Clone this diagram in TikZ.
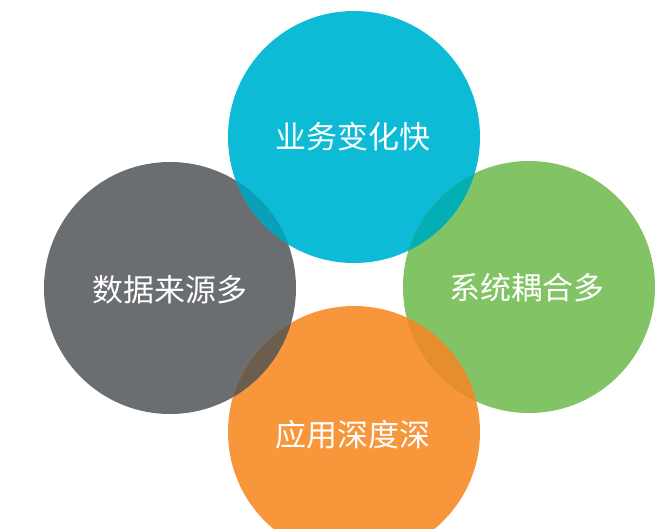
\documentclass[tikz,border=0pt]{standalone}
\usepackage{fontspec}
\newfontfamily\cjk{Noto Sans CJK SC}

\definecolor{bizcyan}{HTML}{0EBBD7}
\definecolor{datagray}{HTML}{6B6E71}
\definecolor{syslgreen}{HTML}{82C465}
\definecolor{appsorange}{HTML}{F7963A}
\definecolor{lapcyangray}{HTML}{09A1BA}
\definecolor{lapcyangreen}{HTML}{03AEB4}
\definecolor{lapgrayorange}{HTML}{6B5E4E}
\definecolor{lapgreenorange}{HTML}{E68E2E}

\begin{document}
\begin{tikzpicture} [x=1pt, y=-1pt, circtext/.style={text=white, font=\cjk\fontsize{31}{34}\selectfont, inner sep=0pt}]
\useasboundingbox (0,0) rectangle (670,528);
\clip (0,0) rectangle (670,528);

\coordinate (biz) at (354,137);
\coordinate (data) at (170,288);
\coordinate (sysl) at (529,287);
\coordinate (apps) at (354,432);

\fill[bizcyan] (biz) circle[radius=126pt];
\fill[datagray] (data) circle[radius=126pt];
\fill[syslgreen] (sysl) circle[radius=126pt];
\fill[appsorange] (apps) circle[radius=126pt];

% overlaps
\begin{scope}
 \clip (biz) circle[radius=126pt];
 \fill[lapcyangray] (data) circle[radius=126pt];
 \fill[lapcyangreen] (sysl) circle[radius=126pt];
\end{scope}
\begin{scope}
 \clip (apps) circle[radius=126pt];
 \fill[lapgrayorange] (data) circle[radius=126pt];
 \fill[lapgreenorange] (sysl) circle[radius=126pt];
\end{scope}

\node[circtext] (biztext) at (353,137) {业务变化快};
\node[circtext] (datatext) at (170,290) {数据来源多};
\node[circtext] (sysltext) at (527,288) {系统耦合多};
\node[circtext] (appstext) at (353,435) {应用深度深};

\end{tikzpicture}
\end{document}
